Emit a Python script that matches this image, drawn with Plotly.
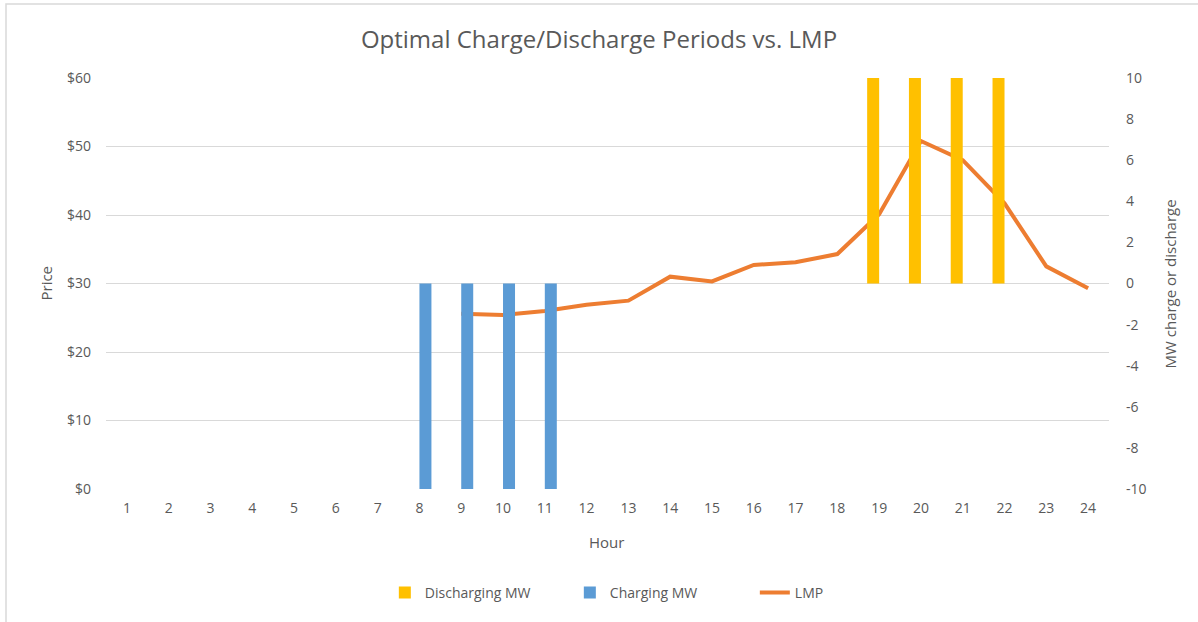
import plotly.graph_objects as go

hours = [str(h) for h in range(1, 25)]
discharging_mw = [0]*18 + [10, 10, 10, 10] + [0, 0]
charging_mw = [0]*7 + [-10, -10, -10, -10] + [0]*13
lmp_hours = [str(h) for h in range(9, 25)]
lmp = [25.6, 25.4, 26.0, 26.9, 27.5, 31.0, 30.3, 32.7, 33.1, 34.3,
       40.1, 50.8, 48.0, 41.7, 32.5, 29.3]
price_ticks = [0, 10, 20, 30, 40, 50, 60]
price_labels = ["$" + str(v) for v in price_ticks]
mw_ticks = list(range(-10, 11, 2))
mw_labels = [str(v) for v in mw_ticks]

FONT = "Open Sans"
GREY = "#595959"

fig = go.Figure()
fig.add_trace(go.Bar(x=hours, y=discharging_mw, name="Discharging MW",
                     marker=dict(color="#FFC000", line=dict(width=0)), yaxis="y2"))
fig.add_trace(go.Bar(x=hours, y=charging_mw, name="Charging MW",
                     marker=dict(color="#5B9BD5", line=dict(width=0)), yaxis="y2"))
fig.add_trace(go.Scatter(x=lmp_hours, y=lmp, name="LMP", mode="lines",
                         line=dict(color="#ED7D31", width=4), yaxis="y"))

fig.update_layout(
    width=1198, height=622,
    margin=dict(l=106, r=89, t=78, b=133, autoexpand=False),
    paper_bgcolor="white", plot_bgcolor="white",
    font=dict(family=FONT, color=GREY, size=14),
    title=dict(text="Optimal Charge/Discharge Periods vs. LMP", x=0.5, xanchor="center",
               y=1 - 40/622, yanchor="middle", font=dict(size=24, color=GREY, family=FONT)),
    barmode="group", bargap=0.426, bargroupgap=0,
    xaxis=dict(type="category", categoryorder="array", categoryarray=hours,
               showgrid=False, showline=False, ticks="", zeroline=False, automargin=False,
               tickfont=dict(size=14, color=GREY), ticklabelstandoff=9),
    yaxis=dict(range=[0, 60], tickvals=price_ticks, ticktext=price_labels,
               showgrid=True, gridcolor="#D9D9D9", gridwidth=1, zeroline=False,
               showline=False, ticks="", automargin=False,
               tickfont=dict(size=14, color=GREY), ticklabelstandoff=14),
    yaxis2=dict(range=[-10, 10], tickvals=mw_ticks, ticktext=mw_labels,
                overlaying="y", side="right", automargin=False,
                showgrid=False, zeroline=False, showline=False, ticks="",
                tickfont=dict(size=14, color=GREY), ticklabelstandoff=16),
    legend=dict(orientation="h", x=0.278, xanchor="left", y=-0.253, yanchor="middle",
                font=dict(size=14, color=GREY), traceorder="normal",
                entrywidth=140),
    annotations=[
        dict(text="Price", xref="paper", yref="paper", x=-0.0608, y=0.5,
             textangle=-90, showarrow=False, xanchor="center", yanchor="middle",
             font=dict(size=15, color=GREY)),
        dict(text="Hour", xref="paper", yref="paper", x=0.4995, y=-0.129,
             showarrow=False, xanchor="center", yanchor="middle",
             font=dict(size=15, color=GREY)),
        dict(text="MW charge or discharge", xref="paper", yref="paper", x=1.0608, y=0.5,
             textangle=-90, showarrow=False, xanchor="center", yanchor="middle",
             font=dict(size=15, color=GREY)),
    ],
    shapes=[dict(type="rect", xref="paper", yref="paper",
                 x0=-0.0997, x1=1.095, y0=-0.34, y1=1.18,
                 line=dict(color="#D9D9D9", width=1.5), layer="below")],
)

fig.write_html("out.html", config={"displayModeBar": False},
               post_script="document.body.style.margin='0';")
